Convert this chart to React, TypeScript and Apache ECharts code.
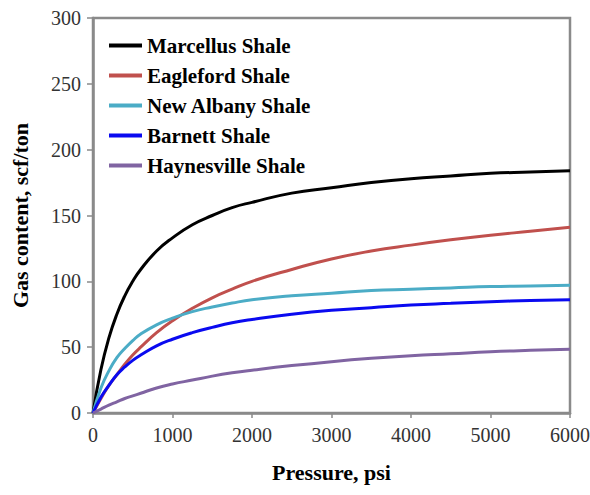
import React, { useEffect, useRef } from "react";
import * as echarts from "echarts";

// Pressure readings (psi) shared by all isotherms
const pressure = [0, 100, 200, 300, 400, 500, 600, 800, 1000, 1250, 1500, 1750, 2000, 2500, 3000, 3500, 4000, 4500, 5000, 5500, 6000];

// Gas content (scf/ton) for each shale play
const marcellus = [0, 33, 57, 75, 89, 100, 109, 123, 133, 143, 150, 156, 160, 167, 171, 175, 178, 180, 182, 183, 184];
const eagleford = [0, 11, 21, 29, 37, 44, 50, 61, 70, 79.5, 87.5, 94, 100, 109, 117, 123, 127.5, 131.5, 135, 138, 141];
const newAlbany = [0, 19, 32, 42, 49, 55, 60, 67, 72, 77, 80.5, 83.5, 86, 89, 91, 93, 94, 95, 96, 96.5, 97];
const barnett = [0, 12, 21, 29, 35, 40, 44, 51, 56, 61, 65, 68.5, 71, 75, 78, 80, 82, 83.3, 84.5, 85.4, 86];
const haynesville = [0, 3, 6, 8.5, 11, 13, 15, 19, 22, 25, 28, 30.5, 32.5, 36, 39, 41.5, 43.5, 45, 46.5, 47.6, 48.5];

const seriesNames = ["Marcellus Shale", "Eagleford Shale", "New Albany Shale", "Barnett Shale", "Haynesville Shale"];
const seriesValues = [marcellus, eagleford, newAlbany, barnett, haynesville];
const seriesColors = ["#000000", "#C0504D", "#4BACC6", "#0A0AF0", "#8064A2"];

const serif = "Liberation Serif";
const axisGray = "#8a8a8a";

export default function App() {
  const ref = useRef<HTMLDivElement>(null);

  useEffect(() => {
    document.body.style.margin = "0";
    if (!ref.current) return;
    const chart = echarts.init(ref.current, undefined, { renderer: "svg" });

    const series = seriesNames.map((name, i) => ({
      name,
      type: "line" as const,
      data: pressure.map((p, j) => [p, seriesValues[i][j]]),
      smooth: true,
      showSymbol: false,
      symbol: "none",
      color: seriesColors[i],
      lineStyle: { width: 3, color: seriesColors[i] },
    }));

    const tickLabel = {
      margin: 12,
      fontFamily: serif,
      fontWeight: "normal",
      fontSize: 20,
      color: "#333333",
      formatter: (v: number) => String(v),
    };

    chart.setOption({
      animation: false,
      backgroundColor: "#ffffff",
      textStyle: { fontFamily: serif },
      grid: {
        left: 93,
        top: 18,
        width: 477,
        height: 395,
        outerBoundsMode: "none",
        containLabel: false,
        show: true,
        borderColor: axisGray,
        borderWidth: 2.5,
        backgroundColor: "transparent",
      },
      legend: {
        orient: "vertical",
        left: 104,
        top: 30,
        icon: "rect",
        itemWidth: 33,
        itemHeight: 4,
        itemGap: 9,
        data: seriesNames,
        textStyle: {
          fontFamily: serif,
          fontWeight: "bold",
          fontSize: 21,
          color: "#000000",
        },
      },
      xAxis: {
        type: "value",
        min: 0,
        max: 6000,
        interval: 1000,
        name: "Pressure, psi",
        nameLocation: "middle",
        nameGap: 48,
        nameTextStyle: {
          fontFamily: serif,
          fontWeight: "bold",
          fontSize: 22,
          color: "#000000",
        },
        axisLine: { show: true, lineStyle: { color: axisGray, width: 2.5 } },
        axisTick: { show: true, inside: false, length: 5, lineStyle: { color: axisGray, width: 1.5 } },
        axisLabel: tickLabel,
        splitLine: { show: false },
      },
      yAxis: {
        type: "value",
        min: 0,
        max: 300,
        interval: 50,
        name: "Gas content, scf/ton",
        nameLocation: "middle",
        nameGap: 62,
        nameRotate: 90,
        nameTextStyle: {
          fontFamily: serif,
          fontWeight: "bold",
          fontSize: 22,
          color: "#000000",
        },
        axisLine: { show: true, lineStyle: { color: axisGray, width: 2.5 } },
        axisTick: { show: true, inside: false, length: 6, lineStyle: { color: axisGray, width: 1.5 } },
        axisLabel: tickLabel,
        splitLine: { show: false },
      },
      series,
    });

    return () => chart.dispose();
  }, []);

  return <div ref={ref} style={{ width: 590, height: 495 }} />;
}
